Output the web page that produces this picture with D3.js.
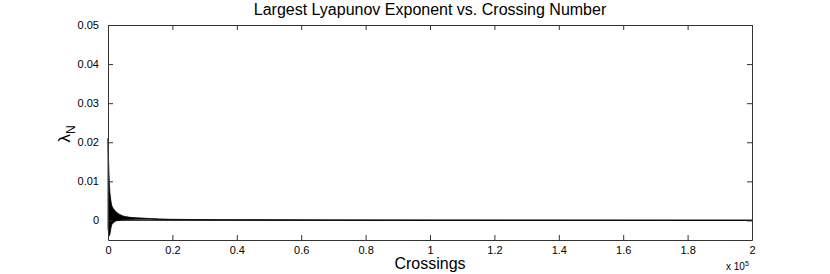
<!DOCTYPE html>
<html>
<head>
<script src="https://d3js.org/d3.v7.min.js"></script>
<style>
body { margin: 0; background: #fff; }
text { font-family: "Liberation Sans", Arial, sans-serif; fill: #000; }
</style>
</head>
<body>
<svg width="830" height="274"></svg>
<script>
// crossings (x) with upper / lower envelope of the dense oscillation
var crossings = [0, 150, 300, 450, 600, 900, 1200, 1600, 1900, 2500, 3100, 3700, 4500, 5300, 6800, 8400, 10500, 13000, 16000, 19000, 25000, 35000, 50000, 70000, 100000, 130000, 160000, 200000];
var upper = [0.021, 0.016, 0.012, 0.009, 0.007, 0.005, 0.0037, 0.0031, 0.0028, 0.0022, 0.0018, 0.0015, 0.0012, 0.001, 0.0008, 0.0007, 0.0006, 0.0005, 0.0004, 0.0003, 0.00025, 0.0002, 0.00016, 0.00013, 0.0001, 0.00009, 0.00008, 0.00007];
var lower = [-0.002, -0.003, -0.004, -0.0038, -0.0035, -0.002, -0.001, -0.0007, -0.0004, -0.0001, 0.0, 0.0001, 0.0002, 0.0002, 0.00025, 0.0003, 0.0003, 0.0003, 0.00025, 0.0002, 0.00018, 0.00015, 0.00012, 0.0001, 0.00008, 0.00007, 0.00006, 0.00005];
var xTicks = [0, 20000, 40000, 60000, 80000, 100000, 120000, 140000, 160000, 180000, 200000];
var yTicks = [0, 0.01, 0.02, 0.03, 0.04, 0.05];

var svg = d3.select("svg");
var plotL = 108, plotR = 752, plotT = 25, plotB = 240;

var x = d3.scaleLinear().domain([0, 200000]).range([plotL, plotR]);
var y = d3.scaleLinear().domain([-0.005, 0.05]).range([plotB, plotT]);

var data = crossings.map(function(c, i) { return {c: c, hi: upper[i], lo: lower[i]}; });

// filled band for the oscillating series
svg.append("path")
    .datum(data)
    .attr("fill", "#000")
    .attr("stroke", "#000")
    .attr("stroke-width", 0.8)
    .attr("d", d3.area()
        .x(function(d) { return x(d.c); })
        .y0(function(d) { return y(d.lo); })
        .y1(function(d) { return y(d.hi); }));

// zero line
svg.append("line")
    .attr("x1", plotL).attr("x2", plotR)
    .attr("y1", y(0)).attr("y2", y(0))
    .attr("stroke", "#000").attr("stroke-width", 0.8);

// axes, MATLAB style: ticks inside, box all round
var fmtX = function(d) { return d3.format("~g")(d / 100000); };
var fmtY = function(d) { return d3.format("~g")(d); };

var gx = svg.append("g").attr("transform", "translate(0," + plotB + ")")
    .call(d3.axisBottom(x).tickValues(xTicks).tickSizeInner(-5).tickSizeOuter(0).tickPadding(6).tickFormat(fmtX));
var gxt = svg.append("g").attr("transform", "translate(0," + plotT + ")")
    .call(d3.axisTop(x).tickValues(xTicks).tickSizeInner(-5).tickSizeOuter(0).tickFormat(""));
var gy = svg.append("g").attr("transform", "translate(" + plotL + ",0)")
    .call(d3.axisLeft(y).tickValues(yTicks).tickSizeInner(-5).tickSizeOuter(0).tickPadding(9).tickFormat(fmtY));
var gyr = svg.append("g").attr("transform", "translate(" + plotR + ",0)")
    .call(d3.axisRight(y).tickValues(yTicks).tickSizeInner(-5).tickSizeOuter(0).tickFormat(""));

[gx, gxt, gy, gyr].forEach(function(g) {
    g.selectAll("path").attr("stroke", "#333").attr("stroke-width", 1);
    g.selectAll("line").attr("stroke", "#333");
    g.selectAll("text").style("font-size", "11px").style("font-family", "Liberation Sans, Arial, sans-serif").attr("fill", "#000");
});

// title
svg.append("text")
    .attr("x", (plotL + plotR) / 2).attr("y", 15)
    .attr("text-anchor", "middle")
    .style("font-size", "16px")
    .text("Largest Lyapunov Exponent vs. Crossing Number");

// x label
svg.append("text")
    .attr("x", (plotL + plotR) / 2).attr("y", 269)
    .attr("text-anchor", "middle")
    .style("font-size", "16px")
    .text("Crossings");

// exponent
var ex = svg.append("text")
    .attr("x", 726).attr("y", 270)
    .style("font-size", "10px");
ex.append("tspan").text("x 10");
ex.append("tspan").attr("dy", -4).style("font-size", "7px").text("5");

// y label
var yl = svg.append("text")
    .attr("transform", "translate(70,134) rotate(-90)")
    .attr("text-anchor", "middle")
    .style("font-size", "17px");
yl.append("tspan").text("λ");
yl.append("tspan").attr("dy", 5).style("font-size", "12px").text("N");
</script>
</body>
</html>
